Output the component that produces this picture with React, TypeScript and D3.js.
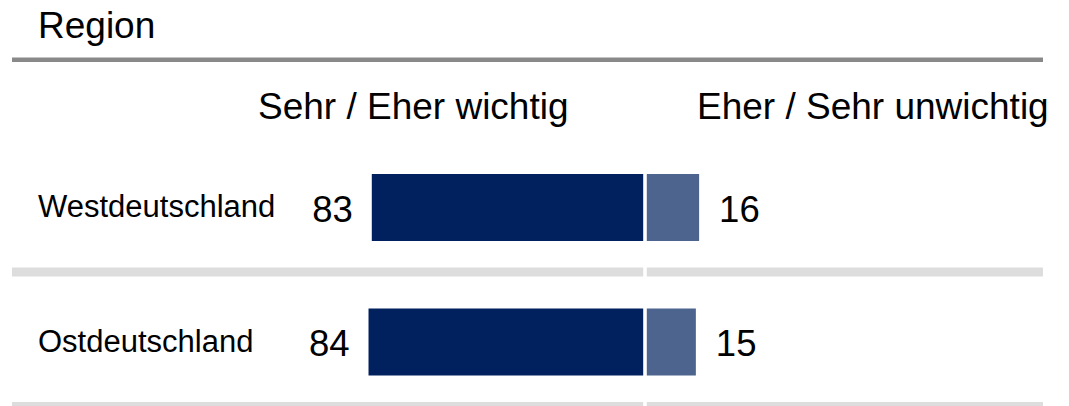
import React, { useRef, useEffect } from "react";
import * as d3 from "d3";

const categories = ["Westdeutschland", "Ostdeutschland"];
const important = [83, 84];
const unimportant = [16, 15];
const headers = ["Sehr / Eher wichtig", "Eher / Sehr unwichtig"];
const title = "Region";

const WIDTH = 1069;
const HEIGHT = 406;
const FONT = "'Liberation Sans', Arial, Helvetica, sans-serif";

export default function App() {
  const svgRef = useRef<SVGSVGElement>(null);

  useEffect(() => {
    const svg = d3.select(svgRef.current);
    svg.selectAll("*").remove();

    const center = 645;
    const gap = 1.8;
    const left = 12;
    const right = 1043;

    // bar length per percentage point
    const x = d3.scaleLinear().domain([0, 100]).range([0, 327]);

    // row centres
    const y = d3
      .scalePoint<string>()
      .domain(categories)
      .range([207.5, 342]);

    const barH = 67;

    const rows = categories.map((c, i) => ({
      name: c,
      pos: important[i],
      neg: unimportant[i],
    }));

    // title + rule
    svg
      .append("text")
      .attr("x", 38)
      .attr("y", 38)
      .attr("font-size", "37px")
      .attr("fill", "#000")
      .text(title);

    svg
      .append("rect")
      .attr("x", left)
      .attr("y", 57.5)
      .attr("width", right - left)
      .attr("height", 4.5)
      .attr("fill", "#898989");

    // column headers
    svg
      .append("text")
      .attr("x", 258)
      .attr("y", 119)
      .attr("font-size", "37px")
      .attr("fill", "#000")
      .text(headers[0]);
    svg
      .append("text")
      .attr("x", 697)
      .attr("y", 119)
      .attr("font-size", "37px")
      .attr("fill", "#000")
      .text(headers[1]);

    const g = svg.selectAll("g.row").data(rows).join("g").attr("class", "row");

    // separators (split at the centre)
    g.append("rect")
      .attr("x", left)
      .attr("y", (d) => y(d.name)! + 60)
      .attr("width", center - gap - left)
      .attr("height", 9)
      .attr("fill", "#dddddd");
    g.append("rect")
      .attr("x", center + gap)
      .attr("y", (d) => y(d.name)! + 60)
      .attr("width", right - center - gap)
      .attr("height", 9)
      .attr("fill", "#dddddd");

    // bars
    g.append("rect")
      .attr("x", (d) => center - gap - x(d.pos))
      .attr("y", (d) => y(d.name)! - barH / 2)
      .attr("width", (d) => x(d.pos))
      .attr("height", barH)
      .attr("fill", "#01205e");
    g.append("rect")
      .attr("x", center + gap)
      .attr("y", (d) => y(d.name)! - barH / 2)
      .attr("width", (d) => x(d.neg))
      .attr("height", barH)
      .attr("fill", "#4d648e");

    // category labels
    g.append("text")
      .attr("x", 38)
      .attr("y", (d) => y(d.name)! + 9.5)
      .attr("font-size", "31px")
      .attr("fill", "#000")
      .text((d) => d.name);

    // values
    g.append("text")
      .attr("x", (d) => center - gap - x(d.pos) - 19)
      .attr("y", (d) => y(d.name)! + 14)
      .attr("text-anchor", "end")
      .attr("font-size", "36.5px")
      .attr("fill", "#000")
      .text((d) => d.pos);
    g.append("text")
      .attr("x", (d) => center + gap + x(d.neg) + 20)
      .attr("y", (d) => y(d.name)! + 14)
      .attr("font-size", "36.5px")
      .attr("fill", "#000")
      .text((d) => d.neg);
  }, []);

  return (
    <svg
      ref={svgRef}
      width={WIDTH}
      height={HEIGHT}
      style={{ position: "absolute", left: 0, top: 0, display: "block", background: "#fff" }}
      fontFamily={FONT}
    />
  );
}
